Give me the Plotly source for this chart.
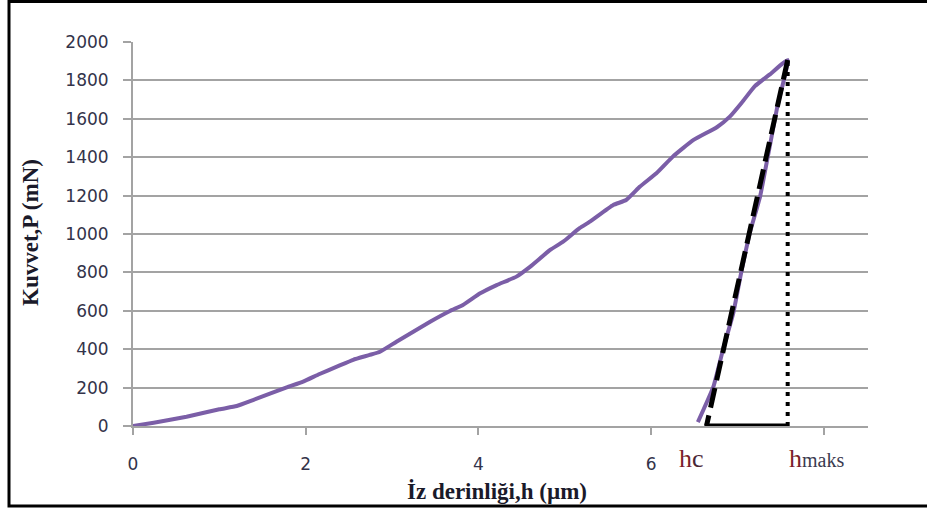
import plotly.graph_objects as go

# Loading curve (depth h in µm, load P in mN)
h_load = [0.0, 0.24, 0.62, 1.0, 1.2, 1.39, 1.78, 1.97, 2.16, 2.36, 2.55, 2.74, 2.86, 3.05,
          3.44, 3.67, 3.82, 4.02, 4.21, 4.44, 4.6, 4.83, 4.98, 5.17, 5.29, 5.56, 5.71,
          5.87, 6.06, 6.25, 6.49, 6.76, 6.91, 7.05, 7.2, 7.37, 7.58]
p_load = [0, 17, 48, 87, 104, 135, 201, 231, 271, 309, 345, 370, 387, 439,
          543, 599, 630, 691, 734, 778, 830, 917, 960, 1030, 1064, 1151, 1177,
          1247, 1316, 1403, 1490, 1556, 1611, 1685, 1770, 1830, 1906]
# Unloading curve
h_unload = [7.58, 7.46, 7.35, 7.26, 7.14, 7.04, 6.95, 6.83, 6.72, 6.54]
p_unload = [1906, 1663, 1403, 1194, 1003, 795, 587, 396, 205, 20]

h_max = 7.58
p_max = 1906
h_c = 6.64
h_c_line = 6.62

x_ticks = [0, 2, 4, 6, 8]
x_tick_text = ["0", "2", "4", "6", ""]
y_ticks = list(range(0, 2001, 200))

purple = "#7b5ea7"
grid = "#a3a3a3"

fig = go.Figure()
fig.add_trace(go.Scatter(x=h_load + h_unload[1:], y=p_load + p_unload[1:], mode="lines",
                         line=dict(color=purple, width=4, shape="spline", smoothing=0.4),
                         showlegend=False, hoverinfo="skip"))
fig.add_trace(go.Scatter(x=[h_max, h_c], y=[p_max, 0], mode="lines",
                         line=dict(color="black", width=5, dash="20px,8px"), showlegend=False))
fig.add_trace(go.Scatter(x=[h_max, h_max], y=[0, p_max], mode="lines",
                         line=dict(color="black", width=4, dash="4px,6px"), showlegend=False))
fig.add_trace(go.Scatter(x=[h_c_line, h_max], y=[0, 0], mode="lines",
                         line=dict(color="black", width=5), showlegend=False, cliponaxis=False))

L, R, T, B = 133, 868, 42, 426
W, H = 927, 511

def px(xp):
    return (xp - L) / (R - L)

def py(yp):
    return (B - yp) / (B - T)

fig.update_layout(
    width=W, height=H,
    margin=dict(l=L, r=W - R, t=T, b=H - B),
    paper_bgcolor="white", plot_bgcolor="white",
    showlegend=False,
    xaxis=dict(range=[0, 8.51], tickvals=x_ticks, ticktext=x_tick_text,
               showgrid=False, zeroline=False, showline=True, linecolor=grid, linewidth=2,
               ticks="outside", ticklen=7, tickcolor=grid, tickwidth=2,
               ticklabelstandoff=15,
               tickfont=dict(family="DejaVu Sans", size=17, color="#33334a")),
    yaxis=dict(range=[0, 2000], tickvals=y_ticks,
               showgrid=True, gridcolor=grid, gridwidth=2, zeroline=False,
               showline=True, linecolor=grid, linewidth=2,
               ticks="outside", ticklen=8, tickcolor=grid, tickwidth=2,
               ticklabelstandoff=11,
               tickfont=dict(family="DejaVu Sans", size=17, color="#33334a")),
    shapes=[dict(type="rect", xref="paper", yref="paper",
                 x0=px(9), x1=px(945), y0=py(506), y1=py(1.5),
                 line=dict(color="black", width=3), fillcolor="rgba(0,0,0,0)", layer="above")],
    annotations=[
        dict(text="<b>İz derinliği,h (µm)</b>", xref="paper", yref="paper",
             x=px(497), y=py(491), showarrow=False, xanchor="center", yanchor="middle",
             font=dict(family="Liberation Serif", size=23, color="#1a1a2a")),
        dict(text="<b>Kuvvet,P (mN)</b>", xref="paper", yref="paper",
             x=px(30), y=py(233), showarrow=False, xanchor="center", yanchor="middle",
             textangle=-90,
             font=dict(family="Liberation Serif", size=23, color="#1a1a2a")),
        dict(text="<span style='color:#7a1f2b'>h</span>c", xref="x", yref="paper",
             x=6.47, y=py(458), showarrow=False, xanchor="center", yanchor="middle",
             font=dict(family="Liberation Serif", size=26, color="#4a2535")),
        dict(text="<span style='color:#7a1f2b'>h</span><span style='font-size:20px'>maks</span>",
             xref="x", yref="paper",
             x=7.57, y=py(458), showarrow=False, xanchor="left", yanchor="middle",
             bgcolor="white",
             font=dict(family="Liberation Serif", size=26, color="#3a3a50")),
    ],
)

fig.write_html("out.html")
